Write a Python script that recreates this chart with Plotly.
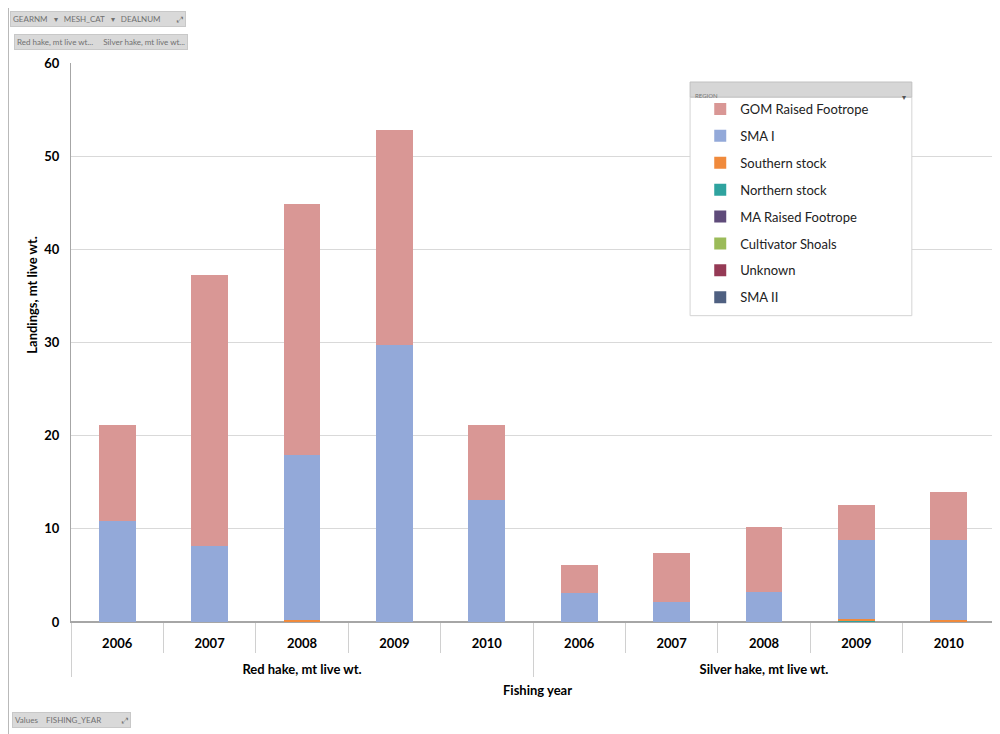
import plotly.graph_objects as go

species = ["Red hake, mt live wt."] * 5 + ["Silver hake, mt live wt."] * 5
years = ["2006", "2007", "2008", "2009", "2010"] * 2

# stacked bottom -> top
sma_ii = [0, 0, 0, 0, 0, 0, 0, 0, 0, 0]
unknown = [0, 0, 0, 0, 0, 0, 0, 0, 0, 0]
cultivator = [0, 0, 0, 0, 0, 0, 0, 0, 0, 0]
ma_raised = [0, 0, 0, 0, 0, 0, 0, 0, 0, 0]
northern = [0, 0, 0, 0, 0, 0, 0, 0, 0.15, 0]
southern = [0, 0, 0.2, 0, 0, 0, 0, 0, 0.2, 0.25]
sma_i = [10.8, 8.15, 17.7, 29.7, 13.1, 3.1, 2.15, 3.2, 8.45, 8.55]
gom = [10.3, 29.05, 26.95, 23.1, 8.0, 3.0, 5.25, 7.0, 3.75, 5.15]

series = [
    ("SMA II", sma_ii, "#4F6081"),
    ("Unknown", unknown, "#953A55"),
    ("Cultivator Shoals", cultivator, "#9BBB59"),
    ("MA Raised Footrope", ma_raised, "#5F4B7A"),
    ("Northern stock", northern, "#2FA39F"),
    ("Southern stock", southern, "#F08A3C"),
    ("SMA I", sma_i, "#93A9D9"),
    ("GOM Raised Footrope", gom, "#D99795"),
]

FONT = "Lato"
# outer category labels: leading blank line places them lower, as in the reference
outer = ["<br>" + s for s in species]

fig = go.Figure()
n = len(series)
for i, (name, vals, col) in enumerate(series):
    fig.add_trace(go.Bar(
        x=[outer, years], y=vals, name=name, legendgroup=name,
        legendrank=n - i,
        marker=dict(color=col, line=dict(width=0)),
    ))

fig.update_layout(
    width=992, height=726,
    barmode="stack", bargap=0.6,
    plot_bgcolor="white", paper_bgcolor="white",
    margin=dict(l=63, r=5, t=55, b=112),
    font=dict(family=FONT, size=13, color="#000"),
    legend=dict(
        x=0.681, xanchor="left", y=0.9445, yanchor="top",
        traceorder="grouped", tracegroupgap=7,
        bgcolor="rgba(0,0,0,0)", borderwidth=0,
        font=dict(family=FONT, size=13, color="#222"),
        itemwidth=30,
    ),
    showlegend=True,
)
fig.update_yaxes(
    range=[0, 60], dtick=10, showgrid=True, gridcolor="#D9D9D9", gridwidth=1,
    showline=True, linecolor="#A6A6A6", zeroline=True, zerolinecolor="#A6A6A6",
    tickfont=dict(family=FONT, size=13, color="#000", weight="bold"),
    ticks="", ticklabelstandoff=8, automargin=False,
)
fig.update_xaxes(
    type="multicategory", showline=True, linecolor="#A6A6A6",
    ticks="outside", tickson="boundaries", ticklen=30, tickcolor="#D0D0D0",
    showdividers=True, dividercolor="#D0D0D0", dividerwidth=1,
    tickfont=dict(family=FONT, size=13, color="#000", weight="bold"),
    ticklabelstandoff=9, automargin=False,
)

# axis titles
fig.add_annotation(text="<b>Landings, mt live wt.</b>", xref="paper", yref="paper",
                   x=-0.0425, y=0.585, textangle=-90, showarrow=False,
                   font=dict(family=FONT, size=13, color="#000"), xanchor="center")
fig.add_annotation(text="<b>Fishing year</b>", xref="paper", yref="paper",
                   x=0.505, y=-0.1216, showarrow=False, yanchor="middle",
                   font=dict(family=FONT, size=13, color="#000"))

# legend box and header
fig.add_shape(type="rect", xref="paper", yref="paper", x0=0.670, x1=0.910,
              y0=0.548, y1=0.939, fillcolor="white", line=dict(color="#D4D4D4", width=1),
              layer="above")
fig.add_shape(type="rect", xref="paper", yref="paper", x0=0.670, x1=0.910,
              y0=0.939, y1=0.966, fillcolor="#D6D6D6", line=dict(color="#C0C0C0", width=1),
              layer="above")
fig.add_annotation(text="REGION", xref="paper", yref="paper", x=0.673, y=0.9525,
                   xanchor="left", showarrow=False, font=dict(size=6, color="#777"))
fig.add_annotation(text="▾", xref="paper", yref="paper", x=0.906, y=0.9525,
                   xanchor="right", showarrow=False, font=dict(size=8, color="#555"))

# pivot field buttons
def button(text, x, y, anchor="left"):
    fig.add_annotation(text=text, xref="paper", yref="paper", x=x, y=y,
                       xanchor=anchor, yanchor="middle", showarrow=False,
                       bgcolor="#D9D9D9", bordercolor="#C8C8C8", borderwidth=1, borderpad=2,
                       font=dict(family=FONT, size=8, color="#707070"))

button("GEARNM   ▾   MESH_CAT   ▾   DEALNUM        ⤢", -0.066, 1.0796)
button("Red hake, mt live wt...     Silver hake, mt live wt...", -0.0617, 1.0376)
button("Values    FISHING_YEAR          ⤢", -0.0639, -0.1753)

# outer frame
fig.add_shape(type="rect", xref="paper", yref="paper", x0=-0.0682, x1=1.0032,
              y0=-0.3, y1=1.1038, line=dict(color="#A0A0A0", width=1.5), layer="below")

fig.write_html("out.html")
